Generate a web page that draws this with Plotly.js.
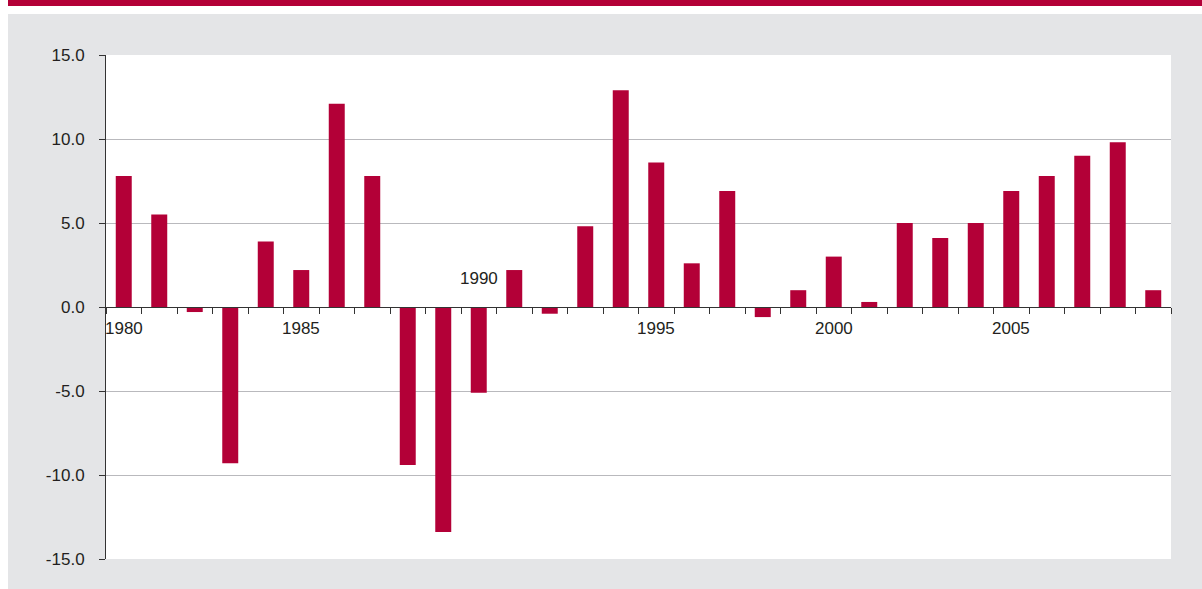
<!DOCTYPE html>
<html>
<head>
<meta charset="utf-8">
<script src="https://cdn.plot.ly/plotly-3.0.1.min.js"></script>
<style>html,body{margin:0;padding:0;background:#fff;}#chart{width:1202px;height:589px;}</style>
</head>
<body>
<div id="chart"></div>
<script>
// Data
var years = [1980,1981,1982,1983,1984,1985,1986,1987,1988,1989,
             1990,1991,1992,1993,1994,1995,1996,1997,1998,1999,
             2000,2001,2002,2003,2004,2005,2006,2007,2008,2009];
var values = [7.8,5.5,-0.3,-9.3,3.9,2.2,12.1,7.8,-9.4,-13.4,
              -5.1,2.2,-0.4,4.8,12.9,8.6,2.6,6.9,-0.6,1.0,
              3.0,0.3,5.0,4.1,5.0,6.9,7.8,9.0,9.8,1.0];
var labelYears = [1980,1985,1990,1995,2000,2005];
var yTickVals = [-15,-10,-5,0,5,10,15];
var yTickText = ['-15.0','-10.0','-5.0','0.0','5.0','10.0','15.0'];
var titleText = 'Figure 1: Annual rate of real return (percentage), 1980–2009';

var RED = '#b30037';
var GRAY = '#e4e5e7';
var TXT = '#231f20';
var FONT = '"Liberation Sans", Arial, sans-serif';

// tick marks at category boundaries
var boundaries = years.map(function(y){return y-0.5;});
boundaries.push(years[years.length-1]+0.5);

var annotations = labelYears.map(function(yr){
  var v = values[years.indexOf(yr)];
  var neg = v < 0;
  return {
    x: yr, y: 0, xref: 'x', yref: 'y',
    text: String(yr), showarrow: false,
    xanchor: 'center', yanchor: neg ? 'bottom' : 'top',
    yshift: neg ? 17 : -10,
    font: {family: FONT, size: 17, color: TXT}
  };
});
annotations.push({
  xref: 'paper', yref: 'paper', x: (12-106)/1065, y: 1.126,
  xanchor: 'left', yanchor: 'middle', showarrow: false,
  text: '<b>' + titleText + '</b>',
  font: {family: FONT, size: 17, color: '#ffffff'}
});

var trace = {
  type: 'bar', x: years, y: values,
  marker: {color: RED, line: {width: 0}},
  hoverinfo: 'x+y'
};

var layout = {
  width: 1202, height: 589,
  margin: {l: 106, r: 31, t: 55, b: 30, pad: 0},
  paper_bgcolor: GRAY,
  plot_bgcolor: '#ffffff',
  showlegend: false,
  bargap: 0.55,
  font: {family: FONT, size: 17, color: TXT},
  xaxis: {
    range: [years[0]-0.5, years[years.length-1]+0.5],
    anchor: 'free', position: 0.5,
    showgrid: false, zeroline: false,
    showline: true, linecolor: '#333333', linewidth: 1,
    tickmode: 'array', tickvals: boundaries, showticklabels: false,
    ticks: 'outside', ticklen: 6, tickcolor: '#333333', tickwidth: 1,
    automargin: false, fixedrange: true
  },
  yaxis: {
    range: [-15, 15],
    tickmode: 'array', tickvals: yTickVals, ticktext: yTickText,
    showgrid: true, gridcolor: '#b9b9bd', gridwidth: 1,
    zeroline: true, zerolinecolor: '#333333', zerolinewidth: 1,
    showline: true, linecolor: '#333333', linewidth: 1,
    ticks: 'outside', ticklen: 6, tickcolor: '#333333', tickwidth: 1,
    ticklabelstandoff: 11,
    tickfont: {family: FONT, size: 17, color: TXT},
    automargin: false, fixedrange: true
  },
  shapes: [
    {type: 'rect', xref: 'paper', yref: 'paper', x0: -0.2, x1: 1.2,
     y0: (559-14)/504, y1: 1.2, fillcolor: '#ffffff', line: {width: 0}, layer: 'above'},
    {type: 'rect', xref: 'paper', yref: 'paper', x0: -0.2, x1: (8-106)/1065,
     y0: -0.2, y1: 1.2, fillcolor: '#ffffff', line: {width: 0}, layer: 'above'},
    {type: 'rect', xref: 'paper', yref: 'paper', x0: (8-106)/1065, x1: 1.2,
     y0: (559-6)/504, y1: 1.2, fillcolor: RED, line: {width: 0}, layer: 'above'}
  ],
  annotations: annotations
};

Plotly.newPlot('chart', [trace], layout, {displayModeBar: false, staticPlot: true});
</script>
</body>
</html>
